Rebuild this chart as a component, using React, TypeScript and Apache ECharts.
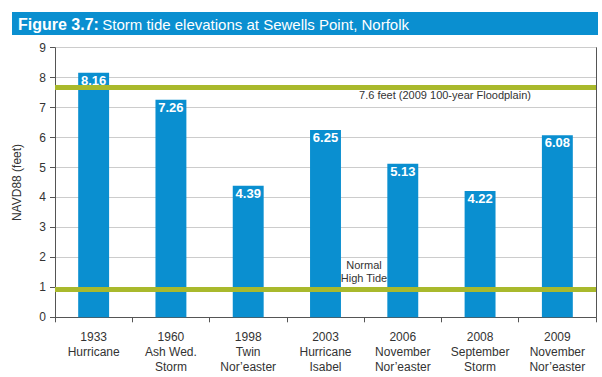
import React, { useEffect, useRef } from "react";
import * as echarts from "echarts";

const categories = [
  "1933\nHurricane",
  "1960\nAsh Wed.\nStorm",
  "1998\nTwin\nNor\u2019easter",
  "2003\nHurricane\nIsabel",
  "2006\nNovember\nNor\u2019easter",
  "2008\nSeptember\nStorm",
  "2009\nNovember\nNor\u2019easter",
];
const values = [8.16, 7.26, 4.39, 6.25, 5.13, 4.22, 6.08];
const floodplainLevel = 7.67;
const highTideLevel = 0.92;
const yTicks = [0, 1, 2, 3, 4, 5, 6, 7, 8, 9];

const BLUE = "#0a8fd0";
const GREEN = "#a9b92c";
const FONT = "'Liberation Sans', Arial, Helvetica, sans-serif";

export default function App() {
  const ref = useRef<HTMLDivElement>(null);
  useEffect(() => {
    if (!ref.current) return;
    const chart = echarts.init(ref.current, undefined, { renderer: "svg" });
    chart.setOption({
      animation: false,
      backgroundColor: "#ffffff",
      textStyle: { fontFamily: FONT },
      grid: { left: 55, right: 6, top: 47.7, bottom: 59.7 },
      graphic: [
        {
          type: "rect",
          shape: { x: 12, y: 12, width: 586, height: 23 },
          style: { fill: BLUE },
        },
        {
          type: "text",
          x: 18,
          y: 24,
          style: {
            text: "{b|Figure 3.7:} {r|Storm tide elevations at Sewells Point, Norfolk}",
            verticalAlign: "middle",
            rich: {
              b: { fontSize: 16, fontWeight: "bold", fill: "#fff", fontFamily: FONT },
              r: { fontSize: 15, fill: "#fff", fontFamily: FONT },
            },
          },
        },
        {
          type: "text",
          x: 445,
          y: 95,
          z: 100,
          style: {
            text: "7.6 feet (2009 100-year Floodplain)",
            align: "center",
            verticalAlign: "middle",
            fontSize: 11,
            fill: "#333",
            fontFamily: FONT,
          },
        },
        {
          type: "text",
          x: 364,
          y: 271,
          z: 100,
          style: {
            text: "Normal\nHigh Tide",
            align: "center",
            verticalAlign: "middle",
            fontSize: 11,
            lineHeight: 13,
            fill: "#333",
            fontFamily: FONT,
          },
        },
      ],
      xAxis: {
        type: "category",
        data: categories,
        axisLine: { show: true, lineStyle: { color: "#555", width: 1 } },
        axisTick: { show: true, alignWithLabel: false, length: 5, lineStyle: { color: "#555" } },
        axisLabel: {
          interval: 0,
          fontSize: 12,
          lineHeight: 15,
          color: "#333",
          margin: 12,
          fontFamily: FONT,
        },
      },
      yAxis: [
        {
          type: "value",
          min: 0,
          max: 9,
          interval: 1,
          name: "NAVD88 (feet)",
          nameLocation: "middle",
          nameGap: 32,
          nameTextStyle: { fontSize: 12, color: "#333", fontFamily: FONT },
          axisLine: { show: true, lineStyle: { color: "#555" } },
          axisTick: { show: true, length: 5, lineStyle: { color: "#555" } },
          axisLabel: {
            fontSize: 12,
            color: "#333",
            margin: 9,
            fontFamily: FONT,
            formatter: (v: number) => (yTicks.includes(v) ? String(v) : ""),
          },
          splitLine: { show: true, lineStyle: { color: "#cccccc", width: 1 } },
        },
        {
          type: "value",
          min: 0,
          max: 9,
          interval: 1,
          position: "right",
          axisLine: { show: true, lineStyle: { color: "#555" } },
          axisTick: { show: false },
          axisLabel: { show: false },
          splitLine: { show: false },
        },
      ],
      series: [
        {
          type: "bar",
          data: values,
          barWidth: "40%",
          itemStyle: { color: BLUE },
          label: {
            show: true,
            position: "insideTop",
            distance: 1,
            color: "#fff",
            fontWeight: "bold",
            fontSize: 13,
            fontFamily: FONT,
            formatter: (p: any) => p.value.toFixed(2),
          },
          markLine: {
            silent: true,
            symbol: "none",
            label: { show: false },
            lineStyle: { color: GREEN, width: 5, type: "solid" },
            data: [{ yAxis: floodplainLevel }, { yAxis: highTideLevel }],
          },
        },
      ],
    });
    return () => chart.dispose();
  }, []);
  return <div ref={ref} style={{ width: 602, height: 377, position: "absolute", left: 0, top: 0 }} />;
}
